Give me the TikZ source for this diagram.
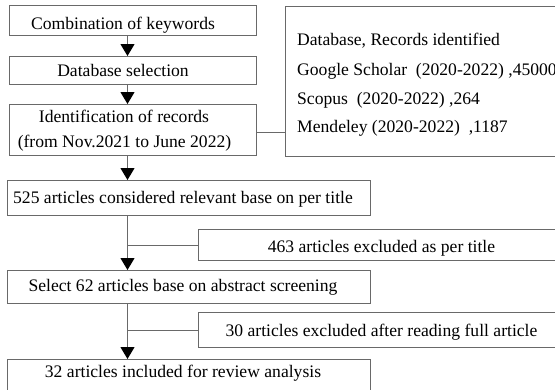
\documentclass[tikz,border=0pt]{standalone}
\usepackage{fontspec}
\setmainfont{Liberation Serif}
\usetikzlibrary{arrows.meta}
\definecolor{edge}{RGB}{105,105,105}
\begin{document}
\begin{tikzpicture}[x=1pt,y=-1pt,
  box/.style={draw=edge, line width=1.1pt, rectangle, inner sep=0pt, anchor=north west},
  txt/.style={font=\fontsize{17.6}{29}\selectfont, inner sep=0pt, anchor=base},
  flow/.style={draw=edge, line width=1.1pt, -{Triangle[width=14pt,length=12pt,color=black]}},
  link/.style={draw=edge, line width=1.1pt}]
\useasboundingbox (0,0) rectangle (555,389);
\clip (0,0) rectangle (555,389);

% search stage
\node[box, minimum width=247pt, minimum height=30pt] (b1) at (9,5) {};
\node[txt] (t1) at (123,29) {Combination of keywords};
\node[box, minimum width=247pt, minimum height=28pt] (b2) at (9,56) {};
\node[txt] (t2) at (123,76) {Database selection};
\node[box, minimum width=247pt, minimum height=51pt] (b3) at (9,104) {};
\node[txt] (t3a) at (124,122) {Identification of records};
\node[txt] (t3b) at (124.5,147) {(from Nov.2021 to June 2022)};

% databases and record counts
\node[box, minimum width=320pt, minimum height=150pt] (db) at (285,6) {};
\node[txt, anchor=base west] (d1) at (297,45.5) {Database, Records identified};
\node[txt, anchor=base west] (d2) at (297,75) {Google Scholar\ \ (2020-2022) ,45000};
\node[txt, anchor=base west] (d3) at (297,104) {Scopus\ \ (2020-2022) ,264};
\node[txt, anchor=base west] (d4) at (297,132) {Mendeley (2020-2022)\ \ ,1187};

% screening stage
\node[box, minimum width=363pt, minimum height=35pt] (b4) at (7,180) {};
\node[txt] (t4) at (183,203) {525 articles considered relevant base on per title};
\node[box, minimum width=366pt, minimum height=31pt] (x1) at (198,229) {};
\node[txt] (tx1) at (381.5,252) {463 articles excluded as per title};
\node[box, minimum width=363pt, minimum height=33pt] (b5) at (7,270) {};
\node[txt] (t5) at (183,291) {Select 62 articles base on abstract screening};
\node[box, minimum width=366pt, minimum height=35pt] (x2) at (198,312) {};
\node[txt] (tx2) at (381.5,336) {30 articles excluded after reading full article};
\node[box, minimum width=363pt, minimum height=45pt] (b6) at (7,359) {};
\node[txt] (t6) at (183,377) {32 articles included for review analysis};

% connectors
\coordinate (ax) at (127.5,0);
\draw[flow] (b1.south -| ax) -- (b2.north -| ax);
\draw[flow] (b2.south -| ax) -- (b3.north -| ax);
\draw[link] ([yshift=-2.5pt]b3.east) -- ([yshift=-2.5pt]b3.east -| db.west);
\draw[flow] (b3.south -| ax) -- (b4.north -| ax);
\draw[flow] (b4.south -| ax) -- (b5.north -| ax);
\draw[link] (x1.west -| ax) -- (x1.west);
\draw[flow] (b5.south -| ax) -- (b6.north -| ax);
\draw[link] (x2.west -| ax) -- (x2.west);
\end{tikzpicture}
\end{document}
